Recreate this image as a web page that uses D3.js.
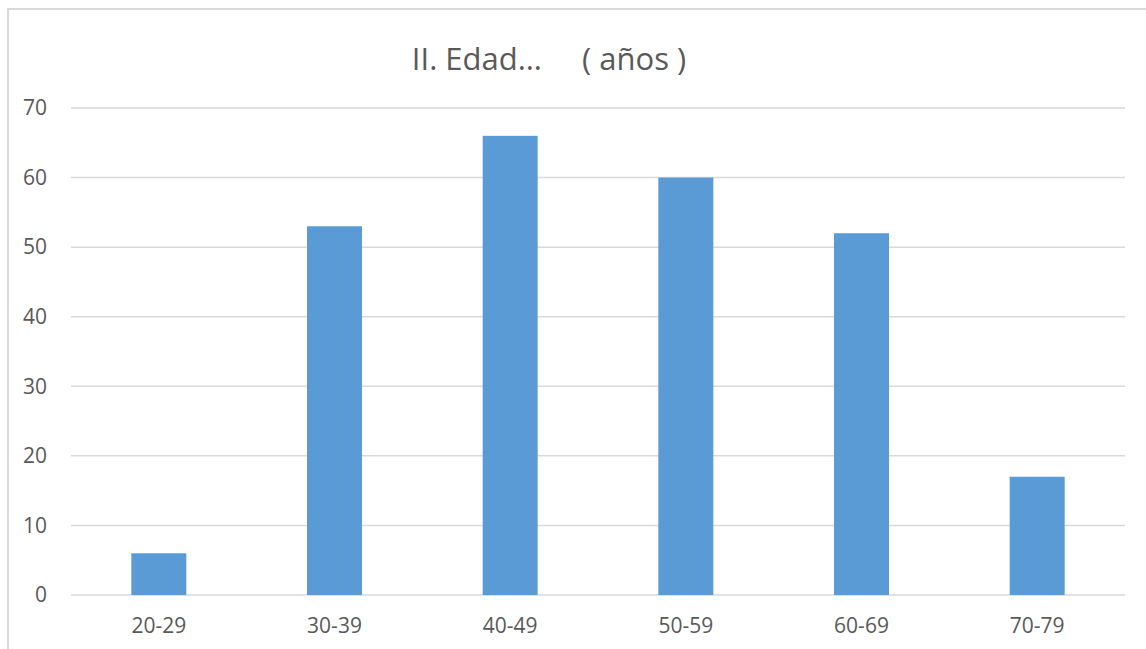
<!DOCTYPE html>
<html lang="es">
<head>
  <meta charset="UTF-8">
  <title>II. Edad (años)</title>
  <script src="https://d3js.org/d3.v7.min.js"></script>
  <style>
    body { margin: 0; background: #fff; font-family: "Open Sans", "Noto Sans", sans-serif; }
    .tick text { fill: #595959; }
  </style>
</head>
<body>
<div id="chart"></div>
<script>
const categories = ["20-29", "30-39", "40-49", "50-59", "60-69", "70-79"];
const values = [6, 53, 66, 60, 52, 17];
const yTicks = [0, 10, 20, 30, 40, 50, 60, 70];
const title = "II. Edad…     ( años )";

const W = 1146, H = 649;
const margin = { top: 108, right: 21, bottom: 54, left: 71 };
const width = W - margin.left - margin.right;
const height = H - margin.top - margin.bottom;

const svg = d3.select("#chart").append("svg")
    .attr("width", W)
    .attr("height", H);

// chart frame (runs off the right and bottom edge)
svg.append("rect")
    .attr("x", 8).attr("y", 9)
    .attr("width", W + 10).attr("height", H + 10)
    .attr("fill", "none")
    .attr("stroke", "#d9d9d9")
    .attr("stroke-width", 2);

const g = svg.append("g")
    .attr("transform", `translate(${margin.left},${margin.top})`);

const x = d3.scaleBand()
    .domain(categories)
    .range([0, width])
    .paddingInner(0.687)
    .paddingOuter(0.687 / 2);

const y = d3.scaleLinear()
    .domain([0, 70])
    .range([height, 0]);

// gridlines
g.append("g")
    .selectAll("line")
    .data(yTicks)
    .join("line")
    .attr("x1", 0).attr("x2", width)
    .attr("y1", d => y(d)).attr("y2", d => y(d))
    .attr("stroke", "#d9d9d9")
    .attr("stroke-width", 1.5);

// y axis labels
const yAxis = g.append("g")
    .call(d3.axisLeft(y).tickValues(yTicks).tickSize(0).tickPadding(24));
yAxis.select(".domain").remove();
yAxis.selectAll("text").attr("font-size", 21).attr("font-family", "Open Sans, Noto Sans, sans-serif");

// bars
g.append("g")
    .selectAll("rect")
    .data(values)
    .join("rect")
    .attr("x", (d, i) => x(categories[i]))
    .attr("y", d => y(d))
    .attr("width", x.bandwidth())
    .attr("height", d => y(0) - y(d))
    .attr("fill", "#5b9bd5");

// x axis labels
const xAxis = g.append("g")
    .attr("transform", `translate(0,${height})`)
    .call(d3.axisBottom(x).tickSize(0).tickPadding(23));
xAxis.select(".domain").remove();
xAxis.selectAll("text").attr("font-size", 21).attr("font-family", "Open Sans, Noto Sans, sans-serif");

// title
svg.append("text")
    .attr("x", 549)
    .attr("y", 70)
    .attr("text-anchor", "middle")
    .attr("font-size", 31)
    .attr("fill", "#595959")
    .style("white-space", "pre")
    .text(title);
</script>
</body>
</html>
